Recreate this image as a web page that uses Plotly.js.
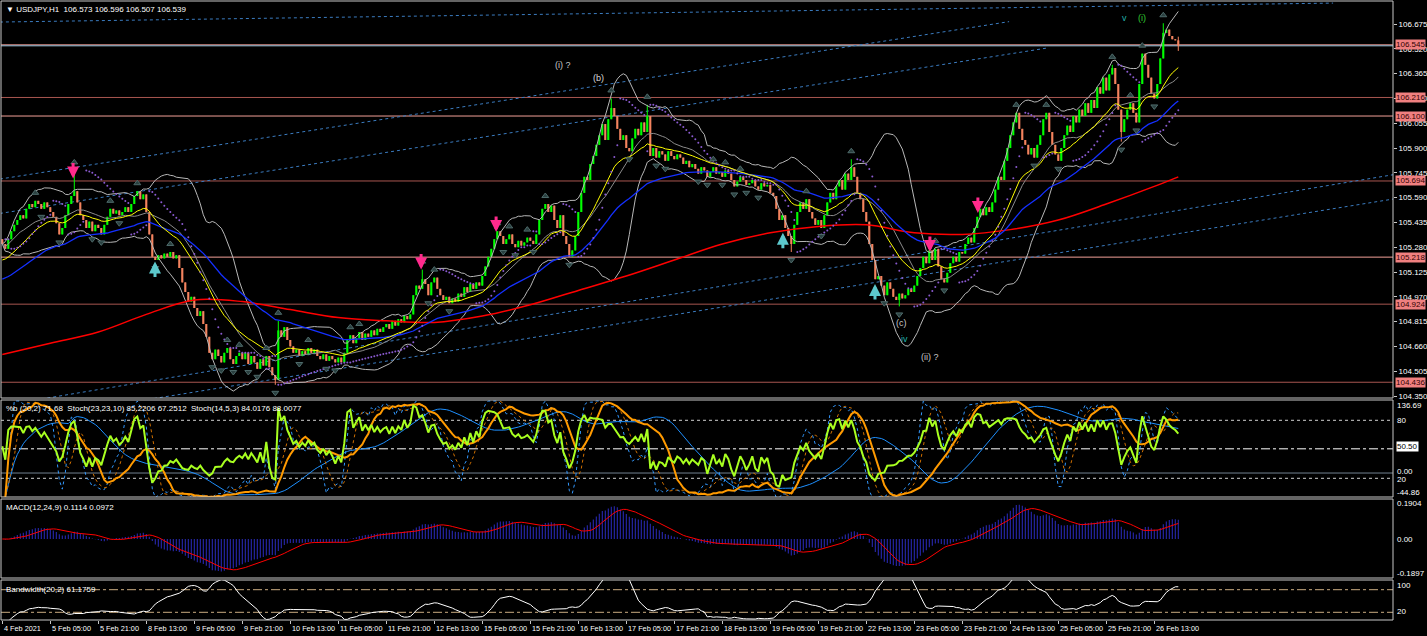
<!DOCTYPE html>
<html><head><meta charset="utf-8">
<script src="https://cdn.plot.ly/plotly-3.0.1.min.js"></script>
<style>html,body{margin:0;padding:0;background:#000;overflow:hidden}#chart{width:1427px;height:636px}</style>
</head><body><div id="chart"></div>
<script>
// ---------------- DATA ----------------
const headerText = "\u25BC USDJPY,H1  106.573 106.596 106.507 106.539";
const xTickBars = [0,16,32,48,64,80,96,112,128,144,160,176,192,208,224,240,256,272,288,304,320,336,352,368,384];
const xTickLabels = ["4 Feb 2021","5 Feb 05:00","5 Feb 21:00","8 Feb 13:00","9 Feb 05:00","9 Feb 21:00","10 Feb 13:00","11 Feb 05:00","11 Feb 21:00","12 Feb 13:00","15 Feb 05:00","15 Feb 21:00","16 Feb 13:00","17 Feb 05:00","17 Feb 21:00","18 Feb 13:00","19 Feb 05:00","19 Feb 21:00","22 Feb 13:00","23 Feb 05:00","23 Feb 21:00","24 Feb 13:00","25 Feb 05:00","25 Feb 21:00","26 Feb 13:00"];
const firstOpen = 105.33;
const closes = [
105.30,105.27,105.33,105.38,105.42,105.45,105.48,105.46,105.52,105.55,105.53,105.57,105.55,105.52,105.56,105.53,
105.50,105.47,105.43,105.36,105.40,105.48,105.55,105.60,105.63,105.56,105.48,105.45,105.40,105.44,105.38,105.42,
105.40,105.36,105.42,105.47,105.52,105.49,105.51,105.48,105.50,105.53,105.50,105.55,105.60,105.63,105.58,105.61,
105.50,105.36,105.22,105.20,105.23,105.21,105.24,105.22,105.25,105.21,105.23,105.15,105.06,105.00,104.94,104.97,
104.90,104.85,104.88,104.80,104.72,104.62,104.58,104.64,104.60,104.56,104.62,104.65,104.58,104.55,104.60,104.62,
104.58,104.62,104.55,104.60,104.56,104.52,104.58,104.54,104.60,104.53,104.48,104.45,104.76,104.72,104.78,104.70,
104.66,104.62,104.64,104.60,104.63,104.61,104.65,104.62,104.64,104.60,104.58,104.61,104.57,104.60,104.58,104.56,
104.59,104.56,104.62,104.70,104.73,104.68,104.71,104.75,104.70,104.74,104.72,104.76,104.73,104.77,104.75,104.78,
104.80,104.77,104.82,104.79,104.83,104.81,104.85,104.83,104.86,104.98,105.04,105.02,105.08,105.05,104.98,105.06,
105.09,105.02,104.98,104.95,104.97,104.93,104.96,104.94,104.99,104.97,105.03,105.00,105.05,105.02,105.06,105.04,
105.10,105.16,105.22,105.27,105.33,105.38,105.35,105.30,105.33,105.36,105.30,105.28,105.32,105.29,105.31,105.34,
105.32,105.30,105.36,105.45,105.52,105.55,105.50,105.54,105.45,105.40,105.48,105.35,105.30,105.22,105.26,105.35,
105.50,105.62,105.72,105.70,105.80,105.85,105.92,105.98,106.05,105.95,106.08,106.15,106.10,106.02,105.95,105.98,
105.90,105.88,105.96,106.02,105.98,106.06,106.00,106.10,105.85,105.90,105.84,105.88,105.86,105.82,105.88,105.85,
105.83,105.86,105.84,105.80,105.82,105.78,105.80,105.77,105.74,105.78,105.76,105.72,105.75,105.78,105.74,105.75,
105.72,105.76,105.74,105.70,105.66,105.69,105.72,105.70,105.67,105.68,105.70,105.66,105.64,105.68,105.66,105.67,
105.62,105.60,105.52,105.45,105.48,105.40,105.35,105.30,105.42,105.50,105.56,105.52,105.58,105.50,105.46,105.42,
105.45,105.40,105.48,105.56,105.62,105.58,105.66,105.70,105.64,105.74,105.70,105.78,105.72,105.62,105.58,105.50,
105.44,105.30,105.20,105.08,105.10,105.04,104.98,105.06,105.02,104.97,104.95,104.99,104.96,104.98,105.02,105.00,
105.04,105.10,105.15,105.22,105.18,105.26,105.20,105.27,105.16,105.08,105.06,105.12,105.18,105.22,105.19,105.25,
105.24,105.30,105.34,105.31,105.40,105.47,105.52,105.48,105.53,105.50,105.56,105.64,105.72,105.70,105.82,105.90,
105.98,106.06,106.12,106.02,105.95,105.92,105.86,105.90,105.84,105.92,105.98,106.08,106.12,106.00,105.92,105.86,
105.82,105.90,105.98,106.04,106.00,106.10,106.06,106.14,106.10,106.18,106.12,106.20,106.15,106.28,106.24,106.34,
106.26,106.36,106.40,106.30,106.14,106.00,106.08,106.14,106.18,106.12,106.06,106.30,106.49,106.42,106.34,106.24,
106.21,106.30,106.46,106.62,106.64,106.60,106.58,106.573,106.539];
const wickHighBars = [24,92,140,203,215,283,370,387,392];
const wickHighPrices = [105.76,104.82,105.14,106.21,106.17,105.83,106.42,106.68,106.596];
const wickLowBars = [91,189,263,299,373,392];
const wickLowPrices = [104.42,105.23,105.25,104.91,105.94,106.507];
const redMABars = [0,16,32,48,64,80,96,112,128,144,160,176,192,208,224,240,256,272,288,304,320,336,352,368,384,392];
const redMAValues = [104.61,104.68,104.75,104.86,104.95,104.94,104.89,104.84,104.82,104.81,104.85,104.92,105.01,105.10,105.20,105.30,105.37,105.41,105.42,105.37,105.36,105.39,105.45,105.55,105.66,105.72];
const blueEmaStart = 105.08;
const yellowEmaStart = 105.20;
const levelPrices = [106.545,106.216,106.100,105.694,105.218,104.924,104.436];
const levelLabels = ["106.545","106.216","106.100","105.694","105.218","104.924","104.436"];
const levelBright = [true,false,true,false,true,false,false];
const bidPrice = 106.539;
// trend lines: [bar0, price0, bar1, price1]
const trendLines = [
  [-0.8,106.6875,443.6,106.806],
  [-0.8,105.706,335.6,106.690],
  [-0.8,105.491,347.9,106.524],
  [-0.8,104.288,463.6,105.733],
  [-0.8,104.179,463.6,105.581]
];
const waveText = ["(i) ?","(b)","(c)","iv","(ii) ?","v","(i)"];
const waveBar = [186.9,198.6,299.6,300.9,309.2,374.2,379.9];
const wavePrice = [106.419,106.338,104.806,104.706,104.594,106.712,106.712];
const waveColor = ["#c8c8c8","#d8d8d8","#c8c8c8","#20b2aa","#c8c8c8","#20b2aa","#32cd32"];
const sellArrowBars = [23.6,139.6,164.6,309.2,325.2];
const sellArrowPrices = [105.71,105.14,105.375,105.25,105.494];
const buyArrowBars = [50.9,260.2,290.9];
const buyArrowPrices = [105.19,105.37,105.05];
const stochLevels = [80, 50.5, 20];
const pctBZeroLevel = 0;
const pctBRange = [-44.86, 136.69];
const bwLevels = [71.1, 27.0];

// ---------------- DERIVED ----------------
const N = closes.length;
const idx = closes.map((_, i) => i);
const opens = closes.map((c, i) => i === 0 ? firstOpen : closes[i-1]);
const highs = closes.map((c, i) => Math.max(c, opens[i]));
const lows = closes.map((c, i) => Math.min(c, opens[i]));
wickHighBars.forEach((b, k) => { highs[b] = Math.max(highs[b], wickHighPrices[k]); });
wickLowBars.forEach((b, k) => { lows[b] = Math.min(lows[b], wickLowPrices[k]); });

function sma(a, n){ return a.map((_, i) => { const s = Math.max(0, i-n+1); let t=0; for(let j=s;j<=i;j++) t+=a[j]; return t/(i-s+1); }); }
function stdev(a, n){ return a.map((_, i) => { const s = Math.max(0, i-n+1); let m=0; for(let j=s;j<=i;j++) m+=a[j]; m/= (i-s+1); let v=0; for(let j=s;j<=i;j++) v+=(a[j]-m)**2; return Math.sqrt(v/(i-s+1)); }); }
function ema(a, n, seed){ const k = 2/(n+1); let e = seed; return a.map((v, i) => { if(i>0) e = e + k*(v-e); return e; }); }
function stoch(K, D, S){
  const num = [], den = [];
  for(let i=0;i<N;i++){ const s=Math.max(0,i-K+1); let hh=-1e9, ll=1e9; for(let j=s;j<=i;j++){hh=Math.max(hh,highs[j]); ll=Math.min(ll,lows[j]);} num.push(closes[i]-ll); den.push(hh-ll); }
  const main = num.map((_, i) => { const s=Math.max(0,i-S+1); let a=0,b=0; for(let j=s;j<=i;j++){a+=num[j]; b+=den[j];} return b>0 ? a/b*100 : 50; });
  return [main, sma(main, D)];
}
function psar(step, maxAf){
  const out=[null]; let up=true, af=step, ep=highs[0], s=lows[0];
  for(let i=1;i<N;i++){
    s = s + af*(ep - s);
    if(up){ s = Math.min(s, lows[i-1], lows[Math.max(0,i-2)]);
      if(lows[i] < s){ up=false; s=ep; ep=lows[i]; af=step; }
      else if(highs[i] > ep){ ep=highs[i]; af=Math.min(af+step,maxAf); } }
    else { s = Math.max(s, highs[i-1], highs[Math.max(0,i-2)]);
      if(highs[i] > s){ up=true; s=ep; ep=highs[i]; af=step; }
      else if(lows[i] < ep){ ep=lows[i]; af=Math.min(af+step,maxAf); } }
    out.push(s);
  }
  return out;
}
const mid = sma(closes, 20), sd = stdev(closes, 20);
const bbUp = mid.map((m,i)=>m+2*sd[i]), bbLo = mid.map((m,i)=>m-2*sd[i]);
const yellow = ema(closes, 20, yellowEmaStart);
const blue = ema(closes, 50, blueEmaStart);
const sarV = psar(0.02, 0.2);
const pctB = closes.map((c,i)=> (bbUp[i]-bbLo[i])>0 ? (c-bbLo[i])/(bbUp[i]-bbLo[i])*100 : 50);
const [st1m, st1s] = stoch(23, 23, 10);
const [st2m, st2s] = stoch(14, 5, 3);
const e12 = ema(closes, 12, closes[0]), e24 = ema(closes, 24, closes[0]);
const macd = e12.map((v,i)=>v-e24[i]);
const macdSig = sma(macd, 9);
const bw = mid.map((m,i)=>(bbUp[i]-bbLo[i])/m*10000);
// fractals
const fUpX=[], fUpY=[], fDnX=[], fDnY=[];
for(let i=2;i<N-2;i++){
  if(highs[i]>highs[i-1]&&highs[i]>highs[i-2]&&highs[i]>=highs[i+1]&&highs[i]>=highs[i+2]){fUpX.push(i);fUpY.push(highs[i]+0.05);}
  if(lows[i]<lows[i-1]&&lows[i]<lows[i-2]&&lows[i]<=lows[i+1]&&lows[i]<=lows[i+2]){fDnX.push(i);fDnY.push(lows[i]-0.05);}
}

// ---------------- TRACES ----------------
const upI = idx.filter(i=>closes[i]>=opens[i]), dnI = idx.filter(i=>closes[i]<opens[i]);
const bull = '#00ff00', bear = '#f4845f';
function bodyTrace(ids, col){ return {type:'bar', x:ids, base:ids.map(i=>Math.min(opens[i],closes[i])), y:ids.map(i=>Math.max(Math.abs(closes[i]-opens[i]),0.004)), width:0.7, marker:{color:col, line:{width:0}}, xaxis:'x', yaxis:'y', showlegend:false}; }
function wickTrace(ids, col){ const x=[],y=[]; ids.forEach(i=>{x.push(i,i,null); y.push(lows[i],highs[i],null);}); return {type:'scatter',mode:'lines',x,y,line:{color:col,width:1},xaxis:'x',yaxis:'y',showlegend:false}; }
function ln(y, col, w, yaxis, dash){ return {type:'scatter', mode:'lines', x:idx, y, line:{color:col, width:w, dash:dash||'solid'}, xaxis:'x', yaxis, showlegend:false}; }

const traces = [
  wickTrace(upI, bull), wickTrace(dnI, bear),
  bodyTrace(upI, bull), bodyTrace(dnI, bear),
  ln(bbUp, '#b8b8b8', 1, 'y'), ln(bbLo, '#b8b8b8', 1, 'y'), ln(mid, '#8c8c8c', 1, 'y'),
  {type:'scatter', mode:'lines', x:redMABars, y:redMAValues, line:{color:'#ff0000', width:1.5, shape:'spline'}, xaxis:'x', yaxis:'y', showlegend:false},
  ln(blue, '#1430ff', 1.3, 'y'),
  ln(yellow, '#ffff00', 1, 'y'),
  {type:'scatter', mode:'markers', x:idx, y:sarV, marker:{color:'#8a5ad0', size:2}, xaxis:'x', yaxis:'y', showlegend:false},
  {type:'scatter', mode:'markers', x:fUpX, y:fUpY, marker:{symbol:'triangle-up', size:6, color:'#2a4040', line:{color:'#4e6a6a', width:1}}, xaxis:'x', yaxis:'y', showlegend:false},
  {type:'scatter', mode:'markers', x:fDnX, y:fDnY, marker:{symbol:'triangle-down', size:6, color:'#2a4040', line:{color:'#4e6a6a', width:1}}, xaxis:'x', yaxis:'y', showlegend:false},
  // stoch panel
  ln(st1s, '#1e90ff', 1, 'y2'),
  ln(st2m, '#3399ff', 1, 'y2', 'dot'),
  ln(st2s, '#d07000', 1, 'y2', 'dot'),
  ln(st1m, '#ff9a00', 2, 'y2'),
  ln(pctB, '#a8ff20', 2, 'y5'),
  // macd
  {type:'bar', x:idx, y:macd, width:0.35, marker:{color:'#2a2ab8', line:{width:0}}, xaxis:'x', yaxis:'y3', showlegend:false},
  ln(macdSig, '#ff0000', 1, 'y3'),
  // bandwidth
  ln(bw, '#ffffff', 1, 'y4')
];

// ---------------- LAYOUT ----------------
const W=1427, H=636, T=1, B=16, Lm=1, Rm=34, plotH=H-T-B;
function py(yPx){ return 1-(yPx-T)/plotH; }
const domMain=[py(398),1], domSt=[py(497),py(400)], domMacd=[py(578),py(499)], domBw=[0,py(580)];
const font = 'Liberation Sans, Arial, sans-serif';
const mainTicks=[]; for(let k=0;k<=15;k++) mainTicks.push(104.350+k*0.155);

const shapes=[];
[domMain,domSt,domMacd,domBw].forEach(d=>shapes.push({type:'rect',xref:'paper',yref:'paper',x0:0,x1:1,y0:d[0],y1:d[1],line:{color:'#c8c8c8',width:1},layer:'above'}));
trendLines.forEach(t=>shapes.push({type:'line',xref:'x',yref:'y',x0:t[0],y0:t[1],x1:t[2],y1:t[3],line:{color:'#3b7cc0',width:1,dash:'dot'},layer:'below'}));
levelPrices.forEach((p,k)=>shapes.push({type:'line',xref:'paper',yref:'y',x0:0,x1:1,y0:p,y1:p,line:{color:levelBright[k]?'#f2a098':'#a85650',width:1},layer:'below'}));
shapes.push({type:'line',xref:'paper',yref:'y',x0:0,x1:1,y0:bidPrice,y1:bidPrice,line:{color:'#9ec8e0',width:1},layer:'below'});
shapes.push({type:'line',xref:'paper',yref:'y2',x0:0,x1:1,y0:stochLevels[0],y1:stochLevels[0],line:{color:'#d0d0d0',width:1,dash:'dot'},layer:'below'});
shapes.push({type:'line',xref:'paper',yref:'y2',x0:0,x1:1,y0:stochLevels[1],y1:stochLevels[1],line:{color:'#ffffff',width:1,dash:'dashdot'},layer:'below'});
shapes.push({type:'line',xref:'paper',yref:'y5',x0:0,x1:1,y0:pctBZeroLevel,y1:pctBZeroLevel,line:{color:'#708090',width:1},layer:'below'});
shapes.push({type:'line',xref:'paper',yref:'y2',x0:0,x1:1,y0:stochLevels[2],y1:stochLevels[2],line:{color:'#d0d0d0',width:1,dash:'dot'},layer:'below'});
bwLevels.forEach(v=>shapes.push({type:'line',xref:'paper',yref:'y4',x0:0,x1:1,y0:v,y1:v,line:{color:'#c8aa80',width:1,dash:'dashdot'},layer:'below'}));

const ann=[];
const txt = (o)=>Object.assign({showarrow:false, font:{family:font,size:8,color:'#ffffff'}}, o);
ann.push(txt({xref:'paper',yref:'paper',x:0,y:1,xanchor:'left',yanchor:'top',xshift:3,yshift:-2,text:headerText}));
ann.push(txt({xref:'paper',yref:'paper',x:0,y:domSt[1],xanchor:'left',yanchor:'top',xshift:3,yshift:-2,text:'%b (20,2) 71.68  Stoch(23,23,10) 85.2206 67.2512  Stoch(14,5,3) 84.0176 88.0077'}));
ann.push(txt({xref:'paper',yref:'paper',x:0,y:domMacd[1],xanchor:'left',yanchor:'top',xshift:3,yshift:-2,text:'MACD(12,24,9) 0.1114 0.0972'}));
ann.push(txt({xref:'paper',yref:'paper',x:0,y:domBw[1],xanchor:'left',yanchor:'top',xshift:3,yshift:-3,text:'Bandwidth(20,2) 61.1759'}));
xTickBars.forEach((b,k)=>ann.push(txt({xref:'x',yref:'paper',x:b,y:py(628),xanchor:'left',yanchor:'middle',xshift:0,text:xTickLabels[k],font:{family:font,size:7.3,color:'#ffffff'}})));
levelPrices.forEach((p,k)=>ann.push(txt({xref:'paper',yref:'y',x:1,y:p,xanchor:'left',yanchor:'middle',xshift:2,text:levelLabels[k],bgcolor:'#f08080',borderpad:0,font:{family:font,size:8,color:'#300000'}})));
const stLab=[[95.8,'136.69'],[80,'80'],[27,'0.00'],[18.5,'20'],[5.8,'-44.86']];
stLab.forEach(l=>ann.push(txt({xref:'paper',yref:'y2',x:1,y:l[0],xanchor:'left',yanchor:'middle',xshift:2,text:l[1]})));
ann.push(txt({xref:'paper',yref:'y2',x:1,y:53,xanchor:'left',yanchor:'middle',xshift:3,text:'50.50',bgcolor:'#ffffff',borderpad:0,font:{family:font,size:8,color:'#000000'}}));
[[0.1904,'0.1904'],[0,'0.00'],[-0.1897,'-0.1897']].forEach(l=>ann.push(txt({xref:'paper',yref:'y3',x:1,y:l[0],xanchor:'left',yanchor:'middle',xshift:2,text:l[1]})));
[[80,'100'],[28,'20']].forEach(l=>ann.push(txt({xref:'paper',yref:'y4',x:1,y:l[0],xanchor:'left',yanchor:'middle',xshift:2,text:l[1]})));
waveText.forEach((t,k)=>ann.push({xref:'x',yref:'y',x:waveBar[k],y:wavePrice[k],text:t,showarrow:false,font:{family:font,size:9,color:waveColor[k]}}));
sellArrowBars.forEach((b,k)=>ann.push({xref:'x',yref:'y',x:b,y:sellArrowPrices[k],text:'',showarrow:true,arrowhead:2,arrowsize:0.8,arrowwidth:3,arrowcolor:'#ff2a8c',ax:0,ay:-17}));
buyArrowBars.forEach((b,k)=>ann.push({xref:'x',yref:'y',x:b,y:buyArrowPrices[k],text:'',showarrow:true,arrowhead:2,arrowsize:0.8,arrowwidth:3,arrowcolor:'#5cc8cc',ax:0,ay:17}));

const yBase = {side:'right', anchor:'x', showgrid:false, zeroline:false, showline:false, fixedrange:true};
const layout = {
  width:W, height:H, margin:{l:Lm,r:Rm,t:T,b:B,pad:0},
  paper_bgcolor:'#000000', plot_bgcolor:'#000000', showlegend:false, hovermode:false, barmode:'overlay',
  font:{family:font,size:8,color:'#ffffff'},
  xaxis:{range:[-0.433,463.57], anchor:'y4', showgrid:false, zeroline:false, showline:false, ticks:'outside', ticklen:3, tickcolor:'#c8c8c8', tickvals:xTickBars, showticklabels:false, fixedrange:true},
  yaxis:Object.assign({}, yBase, {domain:domMain, range:[104.3375,106.819], tickvals:mainTicks, ticktext:mainTicks.map(v=>v.toFixed(3)), ticks:'outside', ticklen:3, tickcolor:'#c8c8c8', tickfont:{family:font,size:8,color:'#ffffff'}}),
  yaxis2:Object.assign({}, yBase, {domain:domSt, range:[0.66,101.0], showticklabels:false}),
  yaxis3:Object.assign({}, yBase, {domain:domMacd, range:[-0.2118,0.2172], showticklabels:false}),
  yaxis4:Object.assign({}, yBase, {domain:domBw, range:[12,90], showticklabels:false}),
  yaxis5:Object.assign({}, yBase, {overlaying:'y2', range:[pctBRange[0], pctBRange[1]], showticklabels:false}),
  shapes, annotations:ann
};
Plotly.newPlot('chart', traces, layout, {staticPlot:true, displayModeBar:false});
</script></body></html>
